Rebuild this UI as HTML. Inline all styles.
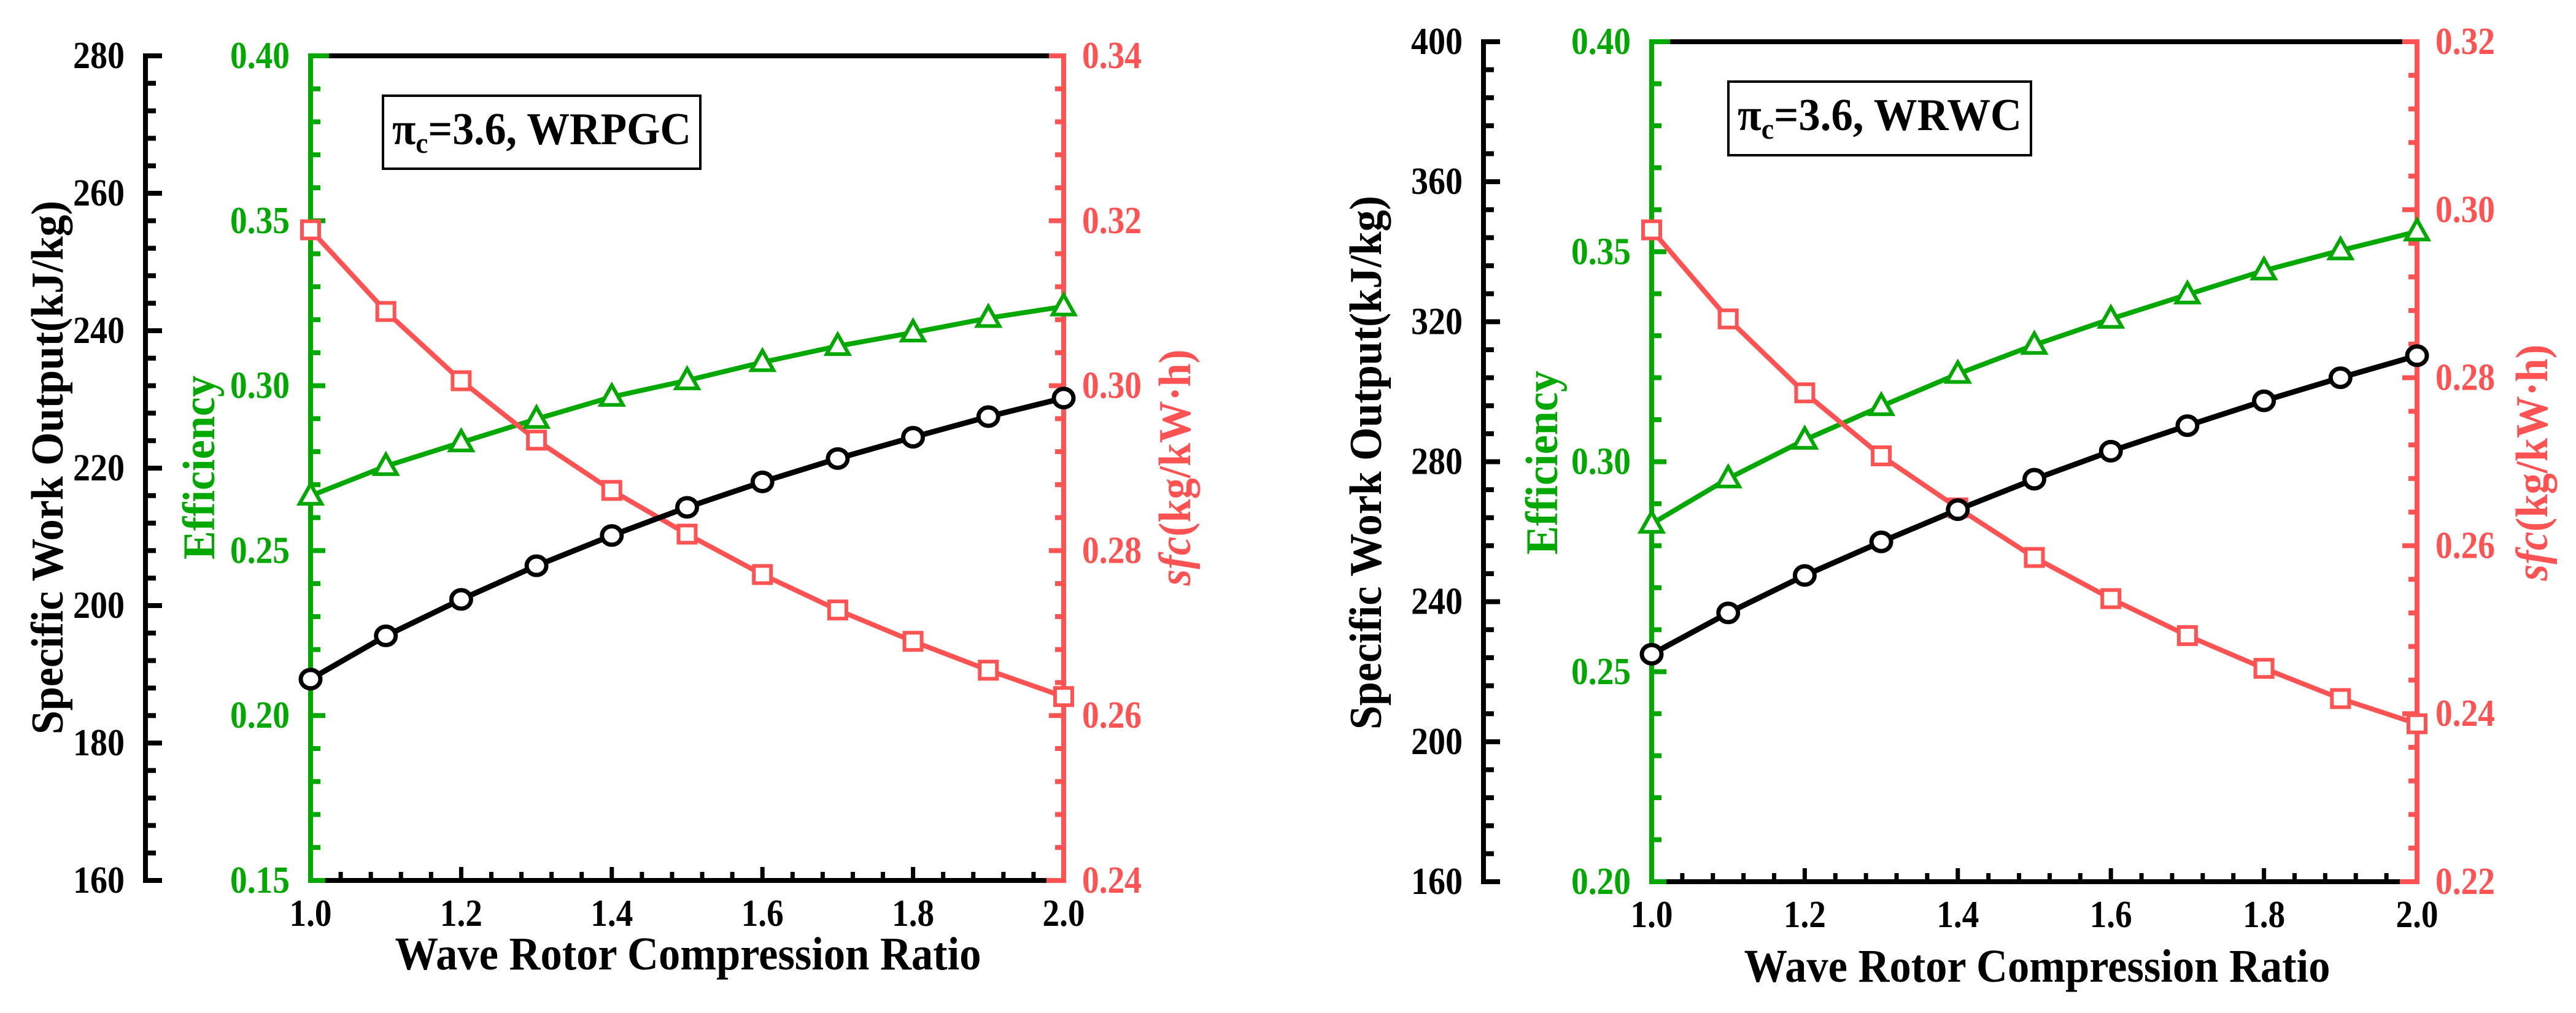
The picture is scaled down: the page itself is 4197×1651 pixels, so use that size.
<!DOCTYPE html>
<html><head><meta charset="utf-8"><style>
html,body{margin:0;padding:0;background:#fff;}
svg{display:block;}
text{font-family:"Liberation Serif",serif;font-weight:bold;}
</style></head><body>
<svg id="c" width="4197" height="1651" viewBox="0 0 4197 1651" xmlns="http://www.w3.org/2000/svg"></svg>
<script>
// ---- data ----
const xValues = [1.0,1.1,1.2,1.3,1.4,1.5,1.6,1.7,1.8,1.9,2.0];
const xTickLabels = ["1.0","1.2","1.4","1.6","1.8","2.0"];
// left panel (WRPGC)
const leftWork = [189.3,195.6,200.9,205.8,210.2,214.3,218.0,221.4,224.5,227.5,230.2];
const leftEff = [0.2666,0.2756,0.2828,0.2899,0.2966,0.3016,0.3071,0.3120,0.3161,0.3205,0.3240];
const leftSfc = [0.3189,0.3090,0.3006,0.2934,0.2873,0.2820,0.2771,0.2728,0.2690,0.2655,0.2623];
const leftWorkTicks = ["160","180","200","220","240","260","280"];
const leftEffTicks = ["0.15","0.20","0.25","0.30","0.35","0.40"];
const leftSfcTicks = ["0.24","0.26","0.28","0.30","0.32","0.34"];
// right panel (WRWC)
const rightWork = [225.0,236.8,247.5,257.1,266.3,275.0,283.0,290.3,297.4,304.0,310.3];
const rightEff = [0.2852,0.2960,0.3052,0.3132,0.3209,0.3278,0.3340,0.3398,0.3455,0.3503,0.3548];
const rightSfc = [0.2976,0.2870,0.2782,0.2707,0.2645,0.2586,0.2537,0.2493,0.2454,0.2418,0.2388];
const rightWorkTicks = ["160","200","240","280","320","360","400"];
const rightEffTicks = ["0.20","0.25","0.30","0.35","0.40"];
const rightSfcTicks = ["0.22","0.24","0.26","0.28","0.30","0.32"];

const NS="http://www.w3.org/2000/svg";
const svg=document.getElementById('c');
const GREEN="#00a800", RED="#ff5252";
function mk(tag,attrs,parent){const e=document.createElementNS(NS,tag);for(const k in attrs)e.setAttribute(k,attrs[k]);(parent||svg).appendChild(e);return e;}
function tl(t){let w=0;for(const ch of t)w+=(ch=='.'?13:28);return w;}

function panel(p){
  const g=mk('g',{});
  
  
  const X=v=>p.x0+(v-1)/(1)*(p.x1-p.x0);
  const Yw=v=>p.yb-(v-p.w[0])/(p.w[1]-p.w[0])*(p.yb-p.yt);
  const Ye=v=>p.yb-(v-p.e[0])/(p.e[1]-p.e[0])*(p.yb-p.yt);
  const Ys=v=>p.yb-(v-p.s[0])/(p.s[1]-p.s[0])*(p.yb-p.yt);
  mk('line',{x1:p.x0,y1:p.yt,x2:p.x1,y2:p.yt,stroke:'#000','stroke-width':8},g);
  mk('line',{x1:p.x0,y1:p.yb,x2:p.x1,y2:p.yb,stroke:'#000','stroke-width':8},g);
  for(let i=0;i<=25;i++){const v=1+i*0.04;const x=X(v);const major=(i%5==0);
    mk('line',{x1:x,y1:p.yb,x2:x,y2:p.yb-(major?22:14),stroke:'#000','stroke-width':7},g);}
  xTickLabels.forEach(t=>{const el=mk('text',{x:X(parseFloat(t)),y:p.yb+74,'font-size':62,'text-anchor':'middle',fill:'#000',textLength:tl(t),lengthAdjust:'spacingAndGlyphs'},g);el.textContent=t;
    
    });
  mk('line',{x1:p.ax,y1:p.yt-4,x2:p.ax,y2:p.yb+4,stroke:'#000','stroke-width':8},g);
  const nW=p.wn;for(let i=0;i<=nW;i++){const y=p.yb-i*(p.yb-p.yt)/nW;const major=i%5==0;
    mk('line',{x1:p.ax,y1:y,x2:p.ax+(major?27:17),y2:y,stroke:'#000','stroke-width':8},g);}
  p.wt.forEach(t=>{const el=mk('text',{x:p.ax-34,y:Yw(parseFloat(t))+20,'font-size':62,'text-anchor':'end',fill:'#000',textLength:tl(t),lengthAdjust:'spacingAndGlyphs'},g);el.textContent=t;
    
    });
  mk('line',{x1:p.x0,y1:p.yt-4,x2:p.x0,y2:p.yb+4,stroke:GREEN,'stroke-width':8},g);
  mk('line',{x1:p.x0,y1:p.yt,x2:p.x0+30,y2:p.yt,stroke:GREEN,'stroke-width':8},g);
  const nE=p.en;for(let i=0;i<=nE;i++){const y=p.yb-i*(p.yb-p.yt)/nE;const major=i%5==0;
    mk('line',{x1:p.x0,y1:y,x2:p.x0+(major?24:16),y2:y,stroke:GREEN,'stroke-width':8},g);}
  p.et.forEach(t=>{const el=mk('text',{x:p.x0-34,y:Ye(parseFloat(t))+20,'font-size':62,'text-anchor':'end',fill:GREEN,textLength:tl(t),lengthAdjust:'spacingAndGlyphs'},g);el.textContent=t;
    
    });
  mk('line',{x1:p.x1,y1:p.yt-4,x2:p.x1,y2:p.yb+4,stroke:RED,'stroke-width':8},g);
  mk('line',{x1:p.x1-28,y1:p.yb,x2:p.x1,y2:p.yb,stroke:RED,'stroke-width':8},g);
  const nS=p.sn;for(let i=0;i<=nS;i++){const y=p.yb-i*(p.yb-p.yt)/nS;const major=i%5==0;
    mk('line',{x1:p.x1,y1:y,x2:p.x1-(major?24:14),y2:y,stroke:RED,'stroke-width':8},g);}
  p.st.forEach(t=>{const el=mk('text',{x:p.x1+30,y:Ys(parseFloat(t))+20,'font-size':62,'text-anchor':'start',fill:RED,textLength:tl(t),lengthAdjust:'spacingAndGlyphs'},g);el.textContent=t;
    
    });
  const pts=(arr,Y)=>arr.map((v,i)=>X(xValues[i])+','+Y(v)).join(' ');
  const le=mk('polyline',{points:pts(p.eff,Ye),fill:'none',stroke:GREEN,'stroke-width':8},g);
  
  
  const ls=mk('polyline',{points:pts(p.sfc,Ys),fill:'none',stroke:RED,'stroke-width':8},g);
  
  
  const lw=mk('polyline',{points:pts(p.work,Yw),fill:'none',stroke:'#000','stroke-width':9},g);
  
  
  p.eff.forEach((v,i)=>{const x=X(xValues[i]),y=Ye(v);
    const m=mk('polygon',{points:`${x},${y-19} ${x-18},${y+13} ${x+18},${y+13}`,fill:'#fff',stroke:GREEN,'stroke-width':6},g);
    
    });
  p.sfc.forEach((v,i)=>{const x=X(xValues[i]),y=Ys(v);
    const m=mk('rect',{x:x-14,y:y-14,width:28,height:28,fill:'#fff',stroke:RED,'stroke-width':6},g);
    
    });
  p.work.forEach((v,i)=>{const x=X(xValues[i]),y=Yw(v);
    const m=mk('ellipse',{cx:x,cy:y,rx:16,ry:15,fill:'#fff',stroke:'#000','stroke-width':7},g);
    
    });
  const t1=mk('text',{transform:`translate(${p.wTx},${p.cy}) rotate(-90)`,'font-size':74,'text-anchor':'middle',fill:'#000',textLength:870,lengthAdjust:'spacingAndGlyphs'},g);
  t1.textContent='Specific Work Output(kJ/kg)';
  
  
  const t2=mk('text',{transform:`translate(${p.eTx},${p.cy}) rotate(-90)`,'font-size':74,'text-anchor':'middle',fill:GREEN,textLength:300,lengthAdjust:'spacingAndGlyphs'},g);
  t2.textContent='Efficiency';
  
  
  const t3=mk('text',{transform:`translate(${p.sTx},${p.cy}) rotate(-90)`,'font-size':74,'text-anchor':'middle',fill:RED,textLength:385,lengthAdjust:'spacingAndGlyphs'},g);
  t3.innerHTML='<tspan font-style="italic">sfc</tspan>(kg/kW·h)';
  
  
  const t4=mk('text',{x:p.xtc,y:p.xty,'font-size':76,'text-anchor':'middle',fill:'#000',textLength:955,lengthAdjust:'spacingAndGlyphs'},g);
  t4.textContent='Wave Rotor Compression Ratio';
  
  
  const b=mk('rect',{x:p.bx,y:p.by,width:p.bw,height:p.bh,fill:'#fff',stroke:'#000','stroke-width':4},g);
  
  
  const bt=mk('text',{x:p.bx+15,y:p.by+79,'font-size':74,fill:'#000',textLength:p.bw-30,lengthAdjust:'spacingAndGlyphs'},g);
  bt.innerHTML='π<tspan font-size="48" dy="14">c</tspan><tspan dy="-14">=3.6, '+p.label+'</tspan>';
  
  
}

panel({name:'left-panel-wrpgc',x0:506,x1:1733,yt:91,yb:1435,ax:237,
  w:[160,280],e:[0.15,0.40],s:[0.24,0.34],wn:30,en:25,sn:25,
  work:leftWork,eff:leftEff,sfc:leftSfc,wt:leftWorkTicks,et:leftEffTicks,st:leftSfcTicks,
  wTx:102,eTx:349,sTx:1939,cy:762,xtc:1121,xty:1580,
  bx:624,by:156,bw:517,bh:119,label:'WRPGC'});
panel({name:'right-panel-wrwc',x0:2691,x1:3938,yt:68,yb:1437,ax:2417,
  w:[160,400],e:[0.20,0.40],s:[0.22,0.32],wn:30,en:20,sn:25,
  work:rightWork,eff:rightEff,sfc:rightSfc,wt:rightWorkTicks,et:rightEffTicks,st:rightSfcTicks,
  wTx:2250,eTx:2537,sTx:4150,cy:754,xtc:3319,xty:1600,
  bx:2816,by:133,bw:493,bh:120,label:'WRWC'});
</script>
</body></html>
